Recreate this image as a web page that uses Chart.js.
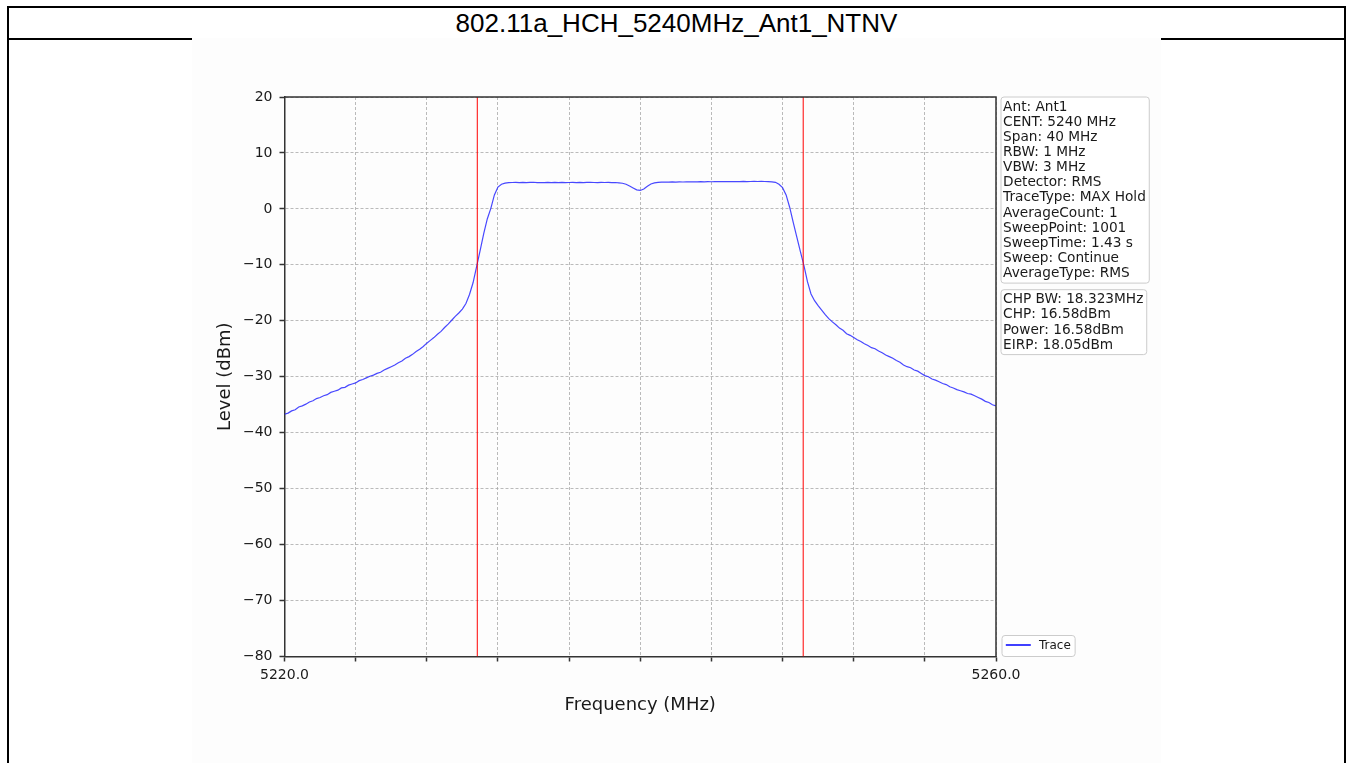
<!DOCTYPE html>
<html>
<head>
<meta charset="utf-8">
<title>802.11a_HCH_5240MHz_Ant1_NTNV</title>
<script src="https://cdn.jsdelivr.net/npm/chart.js@4.4.1/dist/chart.umd.min.js"></script>
<style>
  html, body { margin: 0; padding: 0; background: #fff; overflow: hidden; }
  body { width: 1348px; height: 763px; position: relative; }
  .frame {
    position: absolute; left: 7px; top: 6px; width: 1335px; height: 800px;
    border: 2px solid #000; border-bottom: none;
  }
  .frame .title {
    height: 30px; line-height: 31px; text-align: center;
    font-family: "Liberation Sans", Arial, sans-serif; font-size: 26px; color: #000;
    border-bottom: 2px solid #000;
  }
  .plot {
    position: absolute; left: 192px; top: 38px; width: 969px; height: 725px;
    background: #fdfdfd;
  }
</style>
</head>
<body>
<div class="frame"><div class="title">802.11a_HCH_5240MHz_Ant1_NTNV</div></div>
<div class="plot"><canvas id="spectrum"></canvas></div>
<script>
// sweep setup
const startFreq = 5220;
const stopFreq = 5260;
const stepMHz = 0.2;
const centerFreq = 5240;
const chpBw = 18.323;

// measured trace level (dBm), one value per step from startFreq
const traceLevels = [
  -36.7, -36.5, -36.1, -35.9, -35.4, -35.2, -34.9, -34.5, -34.3, -33.9,
  -33.7, -33.4, -33.2, -32.8, -32.6, -32.4, -32.0, -31.9, -31.5, -31.3,
  -31.1, -30.7, -30.5, -30.2, -29.9, -29.7, -29.4, -29.2, -28.8, -28.5,
  -28.2, -27.9, -27.5, -27.2, -26.7, -26.4, -26.0, -25.5, -25.1, -24.6,
  -24.0, -23.5, -23.0, -22.4, -21.9, -21.2, -20.6, -19.9, -19.2, -18.6,
  -17.9, -16.9, -15.3, -13.2, -10.3, -7.4, -4.4, -1.8, 0.1, 2.5,
  3.9, 4.4, 4.6, 4.7, 4.72, 4.75, 4.7, 4.74, 4.68, 4.73,
  4.76, 4.7, 4.72, 4.69, 4.74, 4.71, 4.75, 4.7, 4.73, 4.68,
  4.72, 4.74, 4.7, 4.75, 4.71, 4.73, 4.76, 4.72, 4.7, 4.74,
  4.72, 4.75, 4.7, 4.72, 4.66, 4.58, 4.4, 4.1, 3.75, 3.4,
  3.3, 3.55, 4.05, 4.45, 4.65, 4.74, 4.78, 4.8, 4.79, 4.82,
  4.8, 4.83, 4.81, 4.84, 4.82, 4.85, 4.83, 4.86, 4.84, 4.87,
  4.85, 4.88, 4.86, 4.88, 4.87, 4.9, 4.88, 4.9, 4.89, 4.91,
  4.89, 4.9, 4.92, 4.9, 4.91, 4.9, 4.88, 4.84, 4.75, 4.4,
  3.8, 2.5, 0.3, -2.4, -5.0, -7.6, -10.1, -13.0, -15.2, -16.4,
  -17.3, -18.1, -18.9, -19.6, -20.2, -20.7, -21.3, -21.7, -22.3, -22.6,
  -23.0, -23.4, -23.7, -24.1, -24.4, -24.8, -25.0, -25.4, -25.7, -26.1,
  -26.4, -26.7, -27.1, -27.4, -27.9, -28.2, -28.4, -28.8, -29.0, -29.4,
  -29.8, -30.0, -30.4, -30.6, -30.9, -31.2, -31.4, -31.8, -32.0, -32.3,
  -32.5, -32.7, -33.0, -33.1, -33.4, -33.7, -34.0, -34.4, -34.6, -35.0,
  -35.2
];

const yTicks = [20, 10, 0, -10, -20, -30, -40, -50, -60, -70, -80];
const xLabeledTicks = [5220, 5260];

const settingsLines = [
  'Ant: Ant1', 'CENT: 5240 MHz', 'Span: 40 MHz', 'RBW: 1 MHz', 'VBW: 3 MHz',
  'Detector: RMS', 'TraceType: MAX Hold', 'AverageCount: 1', 'SweepPoint: 1001',
  'SweepTime: 1.43 s', 'Sweep: Continue', 'AverageType: RMS'
];
const resultLines = [
  'CHP BW: 18.323MHz', 'CHP: 16.58dBm', 'Power: 16.58dBm', 'EIRP: 18.05dBm'
];

// channel power band edges
const bandEdges = [centerFreq - chpBw / 2, centerFreq + chpBw / 2];

const tracePoints = traceLevels.map((v, i) => ({ x: startFreq + i * stepMHz, y: v }));
const edgeSets = bandEdges.map(f => ({
  label: 'edge',
  data: [{ x: f, y: yTicks[yTicks.length - 1] }, { x: f, y: yTicks[0] }],
  borderColor: '#ff0000',
  borderWidth: 1,
  pointRadius: 0,
  order: 1
}));

const mono = '#1a1a1a';
const font = 'DejaVu Sans';

// top/right spines, the two info boxes and the legend
const decorations = {
  id: 'decorations',
  afterDraw(chart) {
    const { ctx, chartArea: a } = chart;
    ctx.save();
    ctx.strokeStyle = '#333';
    ctx.lineWidth = 1.5;
    ctx.beginPath();
    ctx.moveTo(a.left, a.top);
    ctx.lineTo(a.right, a.top);
    ctx.lineTo(a.right, a.bottom);
    ctx.stroke();

    const box = (x, y, w, h) => {
      ctx.beginPath();
      ctx.roundRect(x + 0.5, y + 0.5, w, h, 3);
      ctx.fillStyle = 'rgba(255,255,255,0.85)';
      ctx.fill();
      ctx.strokeStyle = '#cccccc';
      ctx.lineWidth = 1;
      ctx.stroke();
    };

    const lineH = 15.15;
    ctx.font = '13.7px "' + font + '"';
    const textBlock = (lines, x, y) => {
      const w = Math.max(...lines.map(s => ctx.measureText(s).width)) + 5.5;
      const h = lines.length * lineH + 4.3;
      box(x, y, w, h);
      ctx.fillStyle = mono;
      ctx.textBaseline = 'alphabetic';
      lines.forEach((s, i) => ctx.fillText(s, x + 2.6, y + 14 + i * lineH));
      return h;
    };
    const bx = a.right + 4.5;
    const h1 = textBlock(settingsLines, bx, a.top - 0.5);
    textBlock(resultLines, bx, a.top - 0.5 + h1 + 6.6);

    // legend for the trace only
    const ds = chart.data.datasets[0];
    ctx.font = '12px "' + font + '"';
    const lw = 4.3 + 25 + 8 + ctx.measureText(ds.label).width + 4;
    const lx = a.right + 5.5, ly = a.bottom - 21.5;
    box(lx, ly, lw, 21);
    ctx.strokeStyle = '#0000ff';
    ctx.lineWidth = 1.5;
    ctx.beginPath();
    ctx.moveTo(lx + 4.3, ly + 10);
    ctx.lineTo(lx + 29.3, ly + 10);
    ctx.stroke();
    ctx.fillStyle = mono;
    ctx.textBaseline = 'middle';
    ctx.fillText(ds.label, lx + 37.5, ly + 11);
    ctx.restore();
  }
};

new Chart(document.getElementById('spectrum'), {
  type: 'line',
  data: {
    datasets: [
      {
        label: 'Trace',
        data: tracePoints,
        borderColor: 'rgba(40,40,255,0.85)',
        borderWidth: 1.2,
        pointRadius: 0,
        tension: 0,
        order: 2
      },
      ...edgeSets
    ]
  },
  options: {
    responsive: true,
    maintainAspectRatio: false,
    animation: false,
    events: [],
    layout: { padding: { left: 0, top: 59, right: 165, bottom: 6.5 } },
    plugins: { legend: { display: false }, tooltip: { enabled: false } },
    scales: {
      x: {
        type: 'linear',
        min: startFreq,
        max: stopFreq,
        afterFit: s => { s.height = 100; },
        ticks: {
          stepSize: 4,
          autoSkip: false,
          maxRotation: 0,
          padding: 5,
          color: mono,
          font: { family: font, size: 14 },
          callback: v => xLabeledTicks.includes(v) ? v.toFixed(1) : ''
        },
        grid: {
          color: '#a8a8a8',
          lineWidth: 0.8,
          tickLength: 5,
          tickColor: '#333',
          tickWidth: 1.5,
          tickBorderDash: []
        },
        border: { color: '#333', width: 1.5, dash: [3, 2] },
        title: {
          display: true,
          text: 'Frequency (MHz)',
          color: mono,
          font: { family: font, size: 18 },
          padding: { top: 0, bottom: 40.7 }
        }
      },
      y: {
        min: yTicks[yTicks.length - 1],
        max: yTicks[0],
        afterFit: s => { s.width = 92.5; },
        ticks: {
          stepSize: 10,
          padding: 7,
          color: mono,
          font: { family: font, size: 14 },
          callback: v => v < 0 ? '\u2212' + Math.abs(v) : String(v)
        },
        grid: {
          color: '#a8a8a8',
          lineWidth: 0.8,
          tickLength: 5,
          tickColor: '#333',
          tickWidth: 1.5,
          tickBorderDash: []
        },
        border: { color: '#333', width: 1.5, dash: [3, 2] },
        title: {
          display: true,
          text: 'Level (dBm)',
          color: mono,
          font: { family: font, size: 18 },
          padding: { top: 23, bottom: 0 }
        }
      }
    }
  },
  plugins: [decorations]
});
</script>
</body>
</html>
